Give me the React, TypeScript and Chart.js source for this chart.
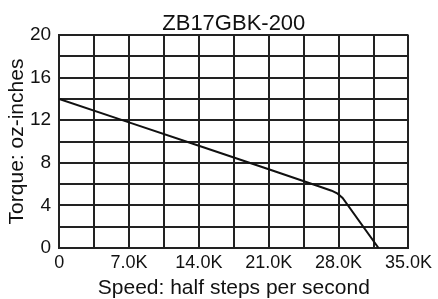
import React, { useEffect, useRef } from "react";
import { Chart, registerables } from "chart.js";

Chart.register(...registerables);

const chartTitle = "ZB17GBK-200";
const xTitle = "Speed: half steps per second";
const yTitle = "Torque: oz-inches";
const speeds = [0, 7000, 14000, 21000, 26000, 27300, 27900, 28400, 32000];
const torque = [14, 11.8, 9.6, 7.4, 5.8, 5.38, 5.1, 4.7, 0];
const xMax = 35000;
const xStep = 3500;
const xLabelEvery = 7000;
const yMax = 20;
const yStep = 2;
const yLabelEvery = 4;

const FONT = "'Liberation Sans', Arial, sans-serif";
const GRID = "#222";

export default function App() {
  const ref = useRef<HTMLCanvasElement | null>(null);
  useEffect(() => {
    document.body.style.margin = "0";
    const canvas = ref.current;
    if (!canvas) return;
    const chart = new Chart(canvas, {
      type: "line",
      data: {
        datasets: [
          {
            data: speeds.map((s, i) => ({ x: s, y: torque[i] })),
            borderColor: "#111",
            borderWidth: 2,
            pointRadius: 0,
            tension: 0,
            fill: false,
          },
        ],
      },
      options: {
        animation: false,
        responsive: false,
        maintainAspectRatio: false,
        layout: { padding: { left: 0, right: 26, top: 0, bottom: 0 } },
        plugins: {
          legend: { display: false },
          tooltip: { enabled: false },
          title: {
            display: true,
            text: chartTitle,
            fullSize: false,
            color: "#111",
            font: { family: FONT, size: 22, weight: "normal", lineHeight: 1 },
            padding: { top: 13, bottom: 0 },
          },
        },
        scales: {
          x: {
            type: "linear",
            min: 0,
            max: xMax,
            border: { display: true, color: GRID, width: 2 },
            grid: { color: GRID, lineWidth: 2, drawTicks: false },
            ticks: {
              stepSize: xStep,
              autoSkip: false,
              maxRotation: 0,
              padding: 6,
              color: "#111",
              font: { family: FONT, size: 18, lineHeight: 1 },
              callback: (v: any) => {
                const n = Number(v);
                if (Math.round(n) % xLabelEvery !== 0) return "";
                return n === 0 ? "0" : (n / 1000).toFixed(1) + "K";
              },
            },
            title: {
              display: true,
              text: xTitle,
              color: "#111",
              font: { family: FONT, size: 21, lineHeight: 1 },
              padding: { top: 0, bottom: 0 },
            },
          },
          y: {
            type: "linear",
            min: 0,
            max: yMax,
            border: { display: true, color: GRID, width: 2 },
            grid: { color: GRID, lineWidth: 2, drawTicks: false },
            ticks: {
              stepSize: yStep,
              autoSkip: false,
              padding: 8,
              color: "#111",
              font: { family: FONT, size: 19, lineHeight: 1 },
              callback: (v: any) => {
                const n = Number(v);
                return Math.round(n) % yLabelEvery === 0 ? String(n) : "";
              },
            },
            title: {
              display: true,
              text: yTitle,
              color: "#111",
              font: { family: FONT, size: 21, lineHeight: 1 },
              padding: { top: 7, bottom: -6 },
            },
          },
        },
      },
    });
    return () => chart.destroy();
  }, []);
  return (
    <div style={{ width: 438, height: 299, background: "#fff" }}>
      <canvas ref={ref} width={438} height={299} style={{ display: "block" }} />
    </div>
  );
}
